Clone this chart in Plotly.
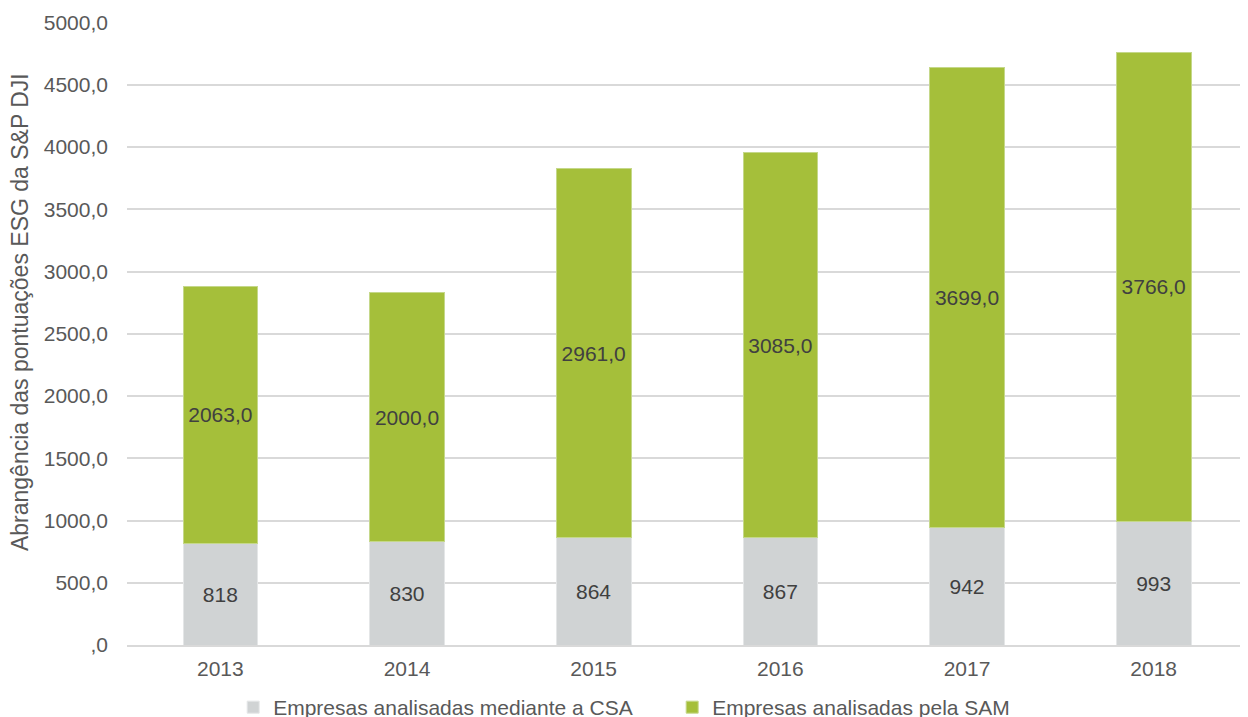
import plotly.graph_objects as go

years = ["2013", "2014", "2015", "2016", "2017", "2018"]
csa_values = [818, 830, 864, 867, 942, 993]
sam_values = [2063.0, 2000.0, 2961.0, 3085.0, 3699.0, 3766.0]
csa_labels = ["818", "830", "864", "867", "942", "993"]
sam_labels = ["2063,0", "2000,0", "2961,0", "3085,0", "3699,0", "3766,0"]
y_tickvals = [0, 500, 1000, 1500, 2000, 2500, 3000, 3500, 4000, 4500, 5000]
y_ticktext = [",0", "500,0", "1000,0", "1500,0", "2000,0", "2500,0", "3000,0",
              "3500,0", "4000,0", "4500,0", "5000,0"]
series_names = ["Empresas analisadas mediante a CSA", "Empresas analisadas pela SAM"]
y_title = "Abrangência das pontuações ESG da S&P DJI"

FONT = "Liberation Sans, Arial, sans-serif"
GRAY = "#D0D3D4"
GREEN = "#A5BF3A"

fig = go.Figure()
fig.add_trace(go.Bar(
    x=years, y=csa_values, name=series_names[0],
    marker=dict(color=GRAY, line=dict(color="#E4E6E7", width=1)),
    text=csa_labels, textposition="inside", insidetextanchor="middle",
    textangle=0, constraintext="none",
    textfont=dict(family=FONT, size=21, color="#404040"),
    hoverinfo="skip",
))
fig.add_trace(go.Bar(
    x=years, y=sam_values, name=series_names[1],
    marker=dict(color=GREEN, line=dict(color="#C5D88A", width=1)),
    text=sam_labels, textposition="inside", insidetextanchor="middle",
    textangle=0, constraintext="none",
    textfont=dict(family=FONT, size=21, color="#404040"),
    hoverinfo="skip",
))

fig.update_layout(
    barmode="stack",
    bargap=0.6,
    width=1240, height=720,
    margin=dict(l=119, r=1, t=14, b=83, autoexpand=False),
    paper_bgcolor="white",
    plot_bgcolor="white",
    font=dict(family=FONT, color="#595959"),
    showlegend=True,
    legend=dict(
        orientation="h",
        xref="container", yref="container",
        x=0.1816, xanchor="left",
        y=0.0, yanchor="bottom",
        font=dict(family=FONT, size=21, color="#595959"),
        traceorder="normal",
        entrywidth=394,
        bgcolor="rgba(0,0,0,0)",
    ),
    xaxis=dict(
        showgrid=False,
        showline=True, linecolor="#D9D9D9", linewidth=2,
        ticks="",
        tickfont=dict(family=FONT, size=21, color="#595959"),
        ticklabelstandoff=4,
    ),
    yaxis=dict(
        range=[0, 5004],
        tickvals=y_tickvals, ticktext=y_ticktext,
        showgrid=True, gridcolor="#D9D9D9", gridwidth=2,
        zeroline=False,
        showline=False,
        ticks="",
        tickfont=dict(family=FONT, size=21, color="#595959"),
        ticklabelstandoff=18,
    ),
    annotations=[dict(
        text=y_title, textangle=-90,
        xref="paper", yref="paper",
        x=-0.0955, y=0.5345, xanchor="center", yanchor="middle",
        showarrow=False,
        font=dict(family=FONT, size=23, color="#595959"),
    )],
)

fig.write_html("out.html")
